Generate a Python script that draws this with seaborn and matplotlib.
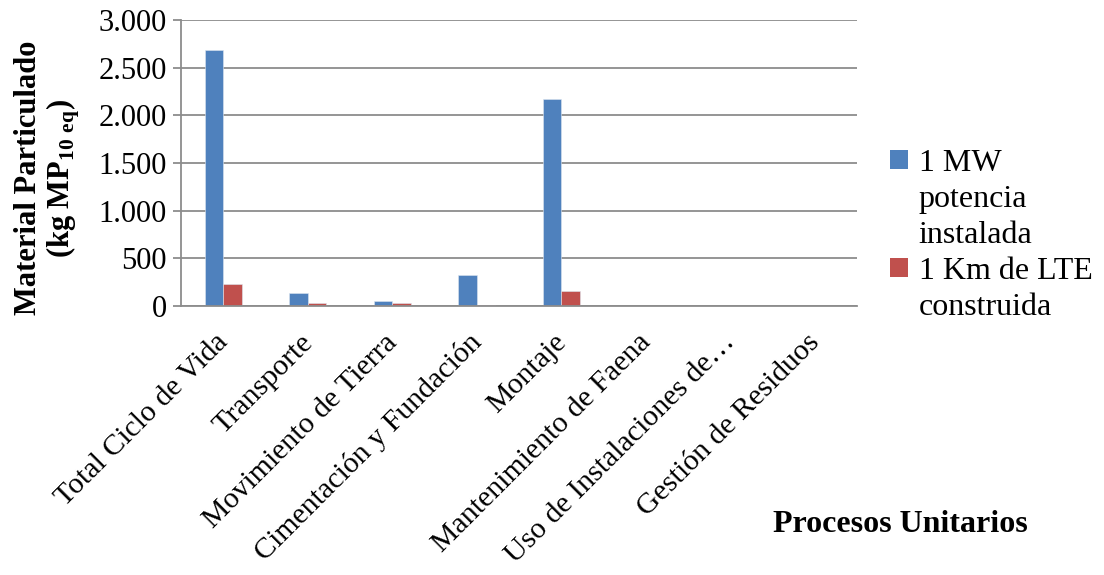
import pandas as pd
import matplotlib.pyplot as plt
import matplotlib.patches as mpatches
import matplotlib.transforms as mtransforms
import seaborn as sns
from matplotlib.ticker import FuncFormatter

# -----------------------------
# Data
# -----------------------------
procesos = [
    "Total Ciclo de Vida",
    "Transporte",
    "Movimiento de Tierra",
    "Cimentación y Fundación",
    "Montaje",
    "Mantenimiento de Faena",
    "Uso de Instalaciones de…",
    "Gestión de Residuos",
]
mw_potencia = [2690, 133, 49, 325, 2172, 1, 5, 0]
km_lte = [231, 30, 28, 8, 157, 0, 0, 0]
series = ["1 MW potencia instalada", "1 Km de LTE construida"]
series_lineas = [["1 MW", "potencia", "instalada"], ["1 Km de LTE", "construida"]]
colores = ["#4F81BD", "#C0504D"]

df = pd.DataFrame({
    "Proceso": procesos * 2,
    "Valor": mw_potencia + km_lte,
    "Serie": [series[0]] * len(procesos) + [series[1]] * len(procesos),
})

# -----------------------------
# Style
# -----------------------------
sns.set_style("white")
plt.rcParams["font.family"] = ["Liberation Serif", "DejaVu Serif"]
plt.rcParams["text.color"] = "black"
plt.rcParams["xtick.color"] = "black"
plt.rcParams["ytick.color"] = "black"
plt.rcParams["mathtext.fontset"] = "custom"
plt.rcParams["mathtext.rm"] = "Liberation Serif"
plt.rcParams["mathtext.bf"] = "Liberation Serif:bold"

FS = 22

fig = plt.figure(figsize=(11.04, 5.75), dpi=100)
ax = fig.add_axes([181 / 1104, 1 - 306 / 575, (857 - 181) / 1104, (306 - 20) / 575])

sns.barplot(
    data=df, x="Proceso", y="Valor", hue="Serie",
    palette=colores, saturation=1, width=0.44, gap=0, ax=ax,
    edgecolor="#DDE6F0", linewidth=0.4, legend=False,
)

# -----------------------------
# Axes
# -----------------------------
ax.set_ylim(0, 3000)
ax.set_yticks(range(0, 3001, 500))
ax.yaxis.set_major_formatter(FuncFormatter(lambda v, p: f"{v:,.0f}".replace(",", ".")))
ax.set_xlim(-0.5, len(procesos) - 0.5)
ax.grid(axis="y", color="#8C8C8C", linewidth=1.3)
ax.set_axisbelow(True)

for s in ["top", "right"]:
    ax.spines[s].set_visible(False)
for s in ["left", "bottom"]:
    ax.spines[s].set_color("#8C8C8C")
    ax.spines[s].set_linewidth(1.3)

ax.tick_params(axis="y", left=True, length=6, width=1.3, color="#8C8C8C",
               labelcolor="black", labelsize=FS, pad=4)
ax.tick_params(axis="x", bottom=False, labelcolor="black", labelsize=21.5, pad=20)
ax.set_xticks(range(len(procesos)))
ax.set_xticklabels(procesos, rotation=45, ha="right", va="center", rotation_mode="anchor")
shift = mtransforms.ScaledTranslation(1 / 100, 0, fig.dpi_scale_trans)
for lab in ax.get_xticklabels():
    lab.set_transform(lab.get_transform() + shift)

ax.set_xlabel("")
ax.set_ylabel("")
fig.text(48 / 1104, 1 - 178 / 575,
         "Material Particulado\n(kg MP$_{\\mathbf{10\\ eq}}$)",
         fontsize=FS, fontweight="bold", rotation=90, linespacing=1.1,
         ha="center", va="center", multialignment="center")

fig.text(900 / 1104, 1 - 524 / 575, "Procesos Unitarios", fontsize=23,
         fontweight="bold", ha="center", va="center")

# -----------------------------
# Legend (one row per text line, square on first line)
# -----------------------------
handles, labels = [], []
for color, lineas in zip(colores, series_lineas):
    for i, linea in enumerate(lineas):
        if i == 0:
            handles.append(mpatches.Patch(facecolor=color, edgecolor="none"))
        else:
            handles.append(mpatches.Patch(facecolor="none", edgecolor="none"))
        labels.append(linea)

fig.legend(handles, labels, loc="upper left",
           bbox_to_anchor=(890 / 1104, 1 - 149 / 575),
           frameon=False, fontsize=23, handlelength=0.55, handleheight=0.55,
           handletextpad=0.35, labelspacing=0.22, borderaxespad=0,
           borderpad=0)

plt.savefig("out.png", dpi=100)
